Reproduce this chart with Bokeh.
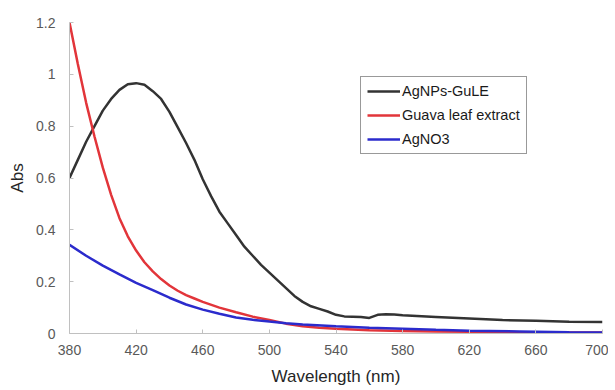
from bokeh.plotting import figure
from bokeh.models import Range1d, FixedTicker, CustomJSTickFormatter, Legend, LegendItem
from bokeh.embed import file_html
from bokeh.resources import INLINE

# AgNPs-GuLE
wl_agnp = [380, 385, 390, 395, 400, 405, 410, 415, 420, 425, 430, 435, 440, 445, 450, 455, 460,
           465, 470, 475, 480, 485, 490, 495, 500, 505, 510, 515, 520, 525, 530, 535, 540, 545,
           550, 555, 560, 565, 570, 575, 580, 600, 620, 640, 660, 680, 700]
abs_agnp = [0.60, 0.67, 0.74, 0.80, 0.86, 0.905, 0.94, 0.962, 0.966, 0.96, 0.935, 0.905, 0.855,
            0.795, 0.735, 0.67, 0.595, 0.53, 0.47, 0.425, 0.38, 0.335, 0.30, 0.265, 0.235, 0.205,
            0.175, 0.145, 0.122, 0.105, 0.095, 0.085, 0.072, 0.066, 0.065, 0.064, 0.060, 0.072,
            0.074, 0.073, 0.070, 0.064, 0.058, 0.052, 0.049, 0.045, 0.044]

# Guava leaf extract
wl_guava = [380, 385, 390, 395, 400, 405, 410, 415, 420, 425, 430, 435, 440, 445, 450, 455, 460,
            470, 480, 490, 500, 510, 520, 530, 540, 560, 580, 600, 620, 650, 700]
abs_guava = [1.20, 1.04, 0.89, 0.76, 0.64, 0.535, 0.445, 0.375, 0.32, 0.275, 0.24, 0.21, 0.185,
             0.165, 0.148, 0.135, 0.122, 0.10, 0.082, 0.065, 0.052, 0.038, 0.028, 0.022, 0.018,
             0.013, 0.010, 0.008, 0.007, 0.005, 0.004]

# AgNO3
wl_agno3 = [380, 390, 400, 410, 420, 430, 440, 450, 460, 470, 480, 490, 500, 510, 520, 540, 560,
            580, 600, 620, 650, 680, 700]
abs_agno3 = [0.342, 0.30, 0.262, 0.228, 0.195, 0.167, 0.138, 0.112, 0.092, 0.076, 0.062, 0.053,
             0.046, 0.040, 0.035, 0.028, 0.022, 0.018, 0.014, 0.011, 0.008, 0.005, 0.004]

x_ticks = [380, 420, 460, 500, 540, 580, 620, 660, 700]
y_ticks = [0, 0.2, 0.4, 0.6, 0.8, 1.0, 1.2]

FONT = "Liberation Sans"

p = figure(width=608, height=390, output_backend="svg", toolbar_location=None,
           x_range=Range1d(380, 700), y_range=Range1d(0, 1.2),
           min_border_left=69, min_border_right=6, min_border_top=22, min_border_bottom=57)
p.outline_line_color = None
p.xgrid.visible = False
p.ygrid.visible = False

r1 = p.line(wl_agnp, abs_agnp, line_color="#333333", line_width=2.5)
r2 = p.line(wl_guava, abs_guava, line_color="#e2353a", line_width=2.5)
r3 = p.line(wl_agno3, abs_agno3, line_color="#2b2bcc", line_width=2.5)

for ax in (p.xaxis[0], p.yaxis[0]):
    ax.axis_line_color = "#c0c0c0"
    ax.major_tick_line_color = "#c0c0c0"
    ax.major_tick_in = 4
    ax.major_tick_out = 0
    ax.minor_tick_line_color = None
    ax.major_label_text_font = FONT
    ax.major_label_text_font_size = "14px"
    ax.major_label_text_color = "#595959"
    ax.axis_label_text_font = FONT
    ax.axis_label_text_font_size = "17px"
    ax.axis_label_text_font_style = "normal"
    ax.axis_label_text_color = "#262626"

p.xaxis.ticker = FixedTicker(ticks=x_ticks)
p.yaxis.ticker = FixedTicker(ticks=y_ticks)
p.yaxis.formatter = CustomJSTickFormatter(code="return String(Math.round(tick*10)/10);")
p.xaxis.axis_label = "Wavelength (nm)"
p.yaxis.axis_label = "Abs"
p.xaxis.major_label_standoff = 11
p.yaxis.major_label_standoff = 14
p.xaxis.axis_label_standoff = 9
p.yaxis.axis_label_standoff = 6

legend = Legend(items=[LegendItem(label="AgNPs-GuLE", renderers=[r1]),
                       LegendItem(label="Guava leaf extract", renderers=[r2]),
                       LegendItem(label="AgNO3", renderers=[r3])],
                location=(291, 179))
legend.label_text_font = FONT
legend.label_text_font_size = "14.5px"
legend.label_text_color = "#1a1a1a"
legend.border_line_color = "#333333"
legend.border_line_width = 1
legend.background_fill_alpha = 1
legend.padding = 6
legend.margin = 0
legend.spacing = 8
legend.glyph_width = 33
legend.glyph_height = 14
legend.label_height = 14
legend.label_standoff = 2
p.add_layout(legend)

open("out.html", "w").write(file_html(p, INLINE))
